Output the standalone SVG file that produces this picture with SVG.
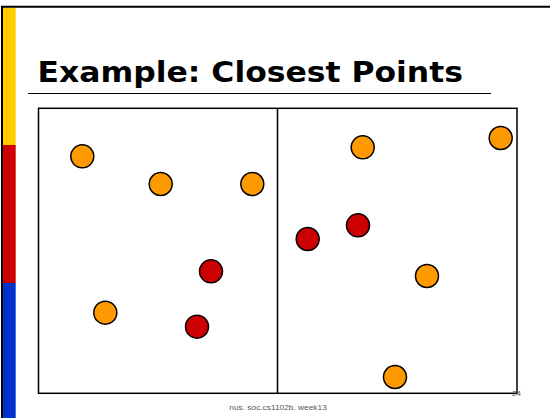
<svg xmlns="http://www.w3.org/2000/svg" width="550" height="418" viewBox="0 0 550 418">
  <style>
    .o { fill: #FF9900; stroke: #000; stroke-width: 1.5; }
    .r { fill: #CC0000; stroke: #000; stroke-width: 1.5; }
    .title { font-family: "DejaVu Sans", Verdana, sans-serif; font-weight: bold; font-size: 29px; fill: #000; }
    .foot { font-family: "Liberation Sans", Arial, sans-serif; font-size: 8px; fill: #555; }
  </style>
  <rect x="0" y="0" width="550" height="418" fill="#fff"/>
  <g id="sidebar">
    <rect x="3" y="7.7" width="12.7" height="137.3" fill="#FFCC00"/>
    <rect x="3" y="145" width="12.7" height="138" fill="#CC0000"/>
    <rect x="3" y="283" width="12.7" height="135" fill="#0033CC"/>
    <line x1="2" y1="6" x2="2" y2="418" stroke="#000" stroke-width="2"/>
    <line x1="1" y1="6.7" x2="550" y2="6.7" stroke="#000" stroke-width="2"/>
  </g>
  <g id="title">
    <text class="title" x="37.5" y="82" textLength="425.5" lengthAdjust="spacingAndGlyphs">Example: Closest Points</text>
    <line x1="28" y1="93.5" x2="491" y2="93.5" stroke="#000" stroke-width="1"/>
  </g>
  <g id="box">
    <rect x="38.5" y="108.3" width="478.5" height="285" fill="none" stroke="#000" stroke-width="1.5"/>
    <line x1="277.5" y1="108.3" x2="277.5" y2="393.3" stroke="#000" stroke-width="1.5"/>
  </g>
  <g id="points-left">
    <circle id="p1" class="o" cx="82.3" cy="156.3" r="11.5"/>
    <circle id="p2" class="o" cx="160.7" cy="184" r="11.5"/>
    <circle id="p3" class="o" cx="252.3" cy="184" r="11.5"/>
    <circle id="p4" class="r" cx="211" cy="271.3" r="11.5"/>
    <circle id="p5" class="o" cx="105.3" cy="312.7" r="11.5"/>
    <circle id="p6" class="r" cx="197" cy="326.7" r="11.5"/>
  </g>
  <g id="points-right">
    <circle id="p7" class="o" cx="362.7" cy="147.3" r="11.5"/>
    <circle id="p8" class="o" cx="500.7" cy="138" r="11.5"/>
    <circle id="p9" class="r" cx="358" cy="225.3" r="11.5"/>
    <circle id="p10" class="r" cx="307.7" cy="239" r="11.5"/>
    <circle id="p11" class="o" cx="427" cy="276" r="11.5"/>
    <circle id="p12" class="o" cx="395" cy="377" r="11.5"/>
  </g>
  <g id="footer">
    <text class="foot" x="229.3" y="410" textLength="97.5" lengthAdjust="spacingAndGlyphs">nus. soc.cs1102b. week13</text>
    <text class="foot" x="512" y="396" font-size="7" fill="#333" textLength="9" lengthAdjust="spacingAndGlyphs">24</text>
  </g>
</svg>
